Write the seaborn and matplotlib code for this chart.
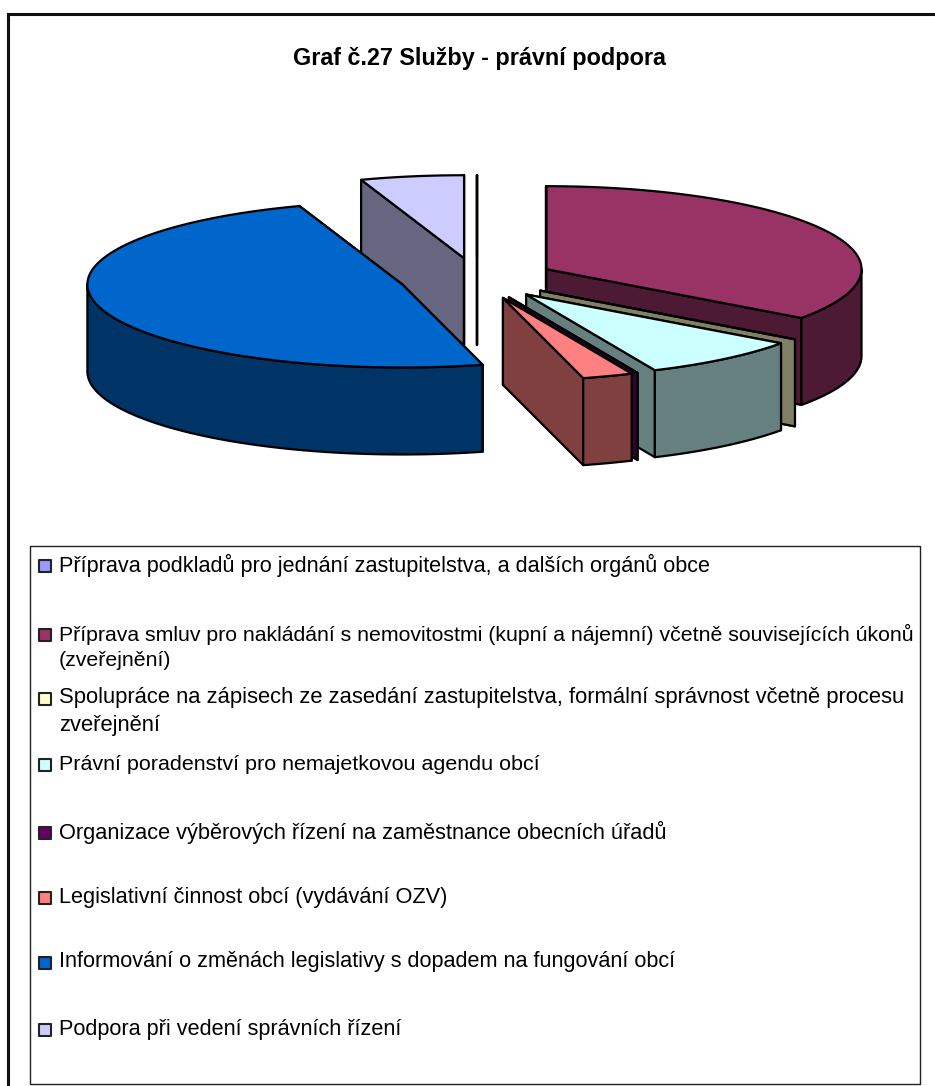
import numpy as np
import matplotlib
matplotlib.use("Agg")
import matplotlib.pyplot as plt
from matplotlib.patches import Polygon
import seaborn as sns

title = "Graf č.27 Služby - právní podpora"
categories = [
    "Příprava podkladů pro jednání zastupitelstva, a dalších orgánů obce",
    "Příprava smluv pro nakládání s nemovitostmi (kupní a nájemní) včetně souvisejících úkonů\n(zveřejnění)",
    "Spolupráce na zápisech ze zasedání zastupitelstva, formální správnost včetně procesu\nzveřejnění",
    "Právní poradenství pro nemajetkovou agendu obcí",
    "Organizace výběrových řízení na zaměstnance obecních úřadů",
    "Legislativní činnost obcí (vydávání OZV)",
    "Informování o změnách legislativy s dopadem na fungování obcí",
    "Podpora při vedení správních řízení",
]
values = [0.0, 35.0, 0.0, 8.3, 0.0, 2.6, 48.8, 5.3]
colors = ["#9999FF", "#993366", "#FFFFCC", "#CCFFFF", "#660066", "#FF8080", "#0066CC", "#CCCCFF"]
legend_y = [565, 634, 698, 764, 832, 897, 962, 1029]
legend_size = [15.55, 15.35, 15.85, 15.45, 15.7, 15.65, 15.6, 15.6]

W, H = 935, 1086
CX, CY, RX, RY, DEPTH, EXPLODE = 477.0, 278.5, 315.0, 83.0, 87.0, 78.0
LW = 1.6
# back-to-front painting order of the slices
paint_order = [7, 0, 6, 1, 2, 3, 4, 5]

sns.set_theme(style="white")
plt.rcParams["font.family"] = ["Liberation Sans", "DejaVu Sans"]

fig = plt.figure(figsize=(W / 100, H / 100), dpi=100, facecolor="white")
ax = fig.add_axes([0, 0, 1, 1])
ax.set_xlim(0, W)
ax.set_ylim(H, 0)
ax.axis("off")

# outer chart frame (its right and bottom sides lie outside the picture) and legend box
ax.plot([8, 8], [H + 5, 14], color="#111111", lw=2.2, zorder=1, solid_capstyle="projecting")
ax.plot([8, W + 5], [14, 14], color="#111111", lw=2.2, zorder=1, solid_capstyle="projecting")
ax.plot([30, 920, 920, 30, 30], [546, 546, 1084, 1084, 546], color="#222222", lw=1.0, zorder=1)

ax.text(479, 58, title, ha="center", va="center", fontsize=16.85, fontweight="bold", color="black")


def rim(theta, ox, oy):
    return np.column_stack([ox + RX * np.sin(theta), oy - RY * np.cos(theta)])


def wall_pair(p, q):
    return np.vstack([p, q, q + [0, DEPTH], p + [0, DEPTH]])


edges = np.cumsum([0.0] + values) / sum(values) * 2 * np.pi
z = 5
for i in paint_order:
    t0, t1 = edges[i], edges[i + 1]
    mid = (t0 + t1) / 2
    ox = CX + EXPLODE * np.sin(mid)
    oy = CY - EXPLODE * np.cos(mid) * RY / RX
    apex = np.array([ox, oy])
    face = colors[i]
    rgb = np.array(matplotlib.colors.to_rgb(face)) * 0.5
    th = np.linspace(t0, t1, max(2, int((t1 - t0) * 60)))
    arc = rim(th, ox, oy)
    style = dict(ec="black", lw=LW, joinstyle="round")
    # radial walls
    for pt in (arc[0], arc[-1]):
        ax.add_patch(Polygon(wall_pair(apex, pt), fc=rgb, zorder=z, **style)); z += 1
    # outer wall, only the part that faces the viewer
    lo, hi = max(t0, np.pi / 2), min(t1, 3 * np.pi / 2)
    if hi > lo:
        tf = np.linspace(lo, hi, 80)
        up = rim(tf, ox, oy)
        ax.add_patch(Polygon(np.vstack([up, (up + [0, DEPTH])[::-1]]), fc=rgb, zorder=z, **style)); z += 1
    # top surface
    ax.add_patch(Polygon(np.vstack([apex, arc]), fc=face, zorder=z, **style)); z += 1

# legend entries
for name, col, y, size in zip(categories, colors, legend_y, legend_size):
    ax.scatter([44.5], [y + 1], marker="s", s=72, c=[col], edgecolors="#222222", linewidths=1.5, zorder=3)
    lines = name.split("\n")
    for k, line in enumerate(lines):
        ax.text(59, y + k * 27, line, ha="left", va="center", fontsize=size, color="black")

fig.savefig("out.png", dpi=100)
